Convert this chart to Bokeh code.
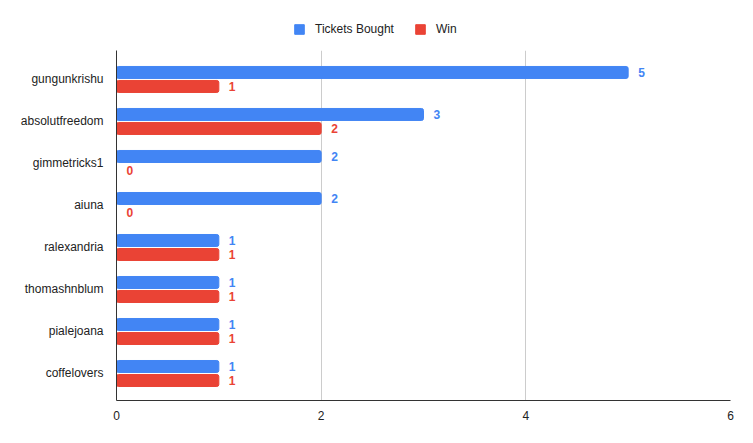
from bokeh.plotting import figure
from bokeh.layouts import column
from bokeh.models import ColumnDataSource, Range1d, FixedTicker, Legend, LegendItem
from bokeh.core.properties import value
from bokeh.embed import file_html
from bokeh.resources import INLINE

users = ["gungunkrishu", "absolutfreedom", "gimmetricks1", "aiuna",
         "ralexandria", "thomashnblum", "pialejoana", "coffelovers"]
tickets = [5, 3, 2, 2, 1, 1, 1, 1]
wins = [1, 2, 0, 0, 1, 1, 1, 1]
series_names = ["Tickets Bought", "Win"]
x_ticks = [0, 2, 4, 6]

BLUE = "#4285F4"
RED = "#EA4335"
FONT = "Liberation Sans"
n = len(users)
pos = [n - 1 - i for i in range(n)]
off = 7 / 42.0
h = 12 / 42.0

src_t = ColumnDataSource(dict(y=[p + off for p in pos], x=tickets, lbl=[str(v) for v in tickets]))
src_w = ColumnDataSource(dict(y=[p - off for p in pos], x=wins, lbl=[str(v) for v in wins]))

# legend strip (its own figure; its ranges keep the proxy bars out of view)
lg = figure(width=745, height=42, output_backend="svg", toolbar_location=None,
            x_range=Range1d(0, 6), y_range=Range1d(100, 101),
            x_axis_type=None, y_axis_type=None,
            min_border_left=116, min_border_right=15, min_border_top=0, min_border_bottom=0)
lg.outline_line_color = None
lg.xgrid.visible = False
lg.ygrid.visible = False
lr1 = lg.hbar(y="y", right="x", left=0, height=h, source=src_t, color=BLUE)
lr2 = lg.hbar(y="y", right="x", left=0, height=h, source=src_w, color=RED)
legend = Legend(items=[LegendItem(label=series_names[0], renderers=[lr1]),
                       LegendItem(label=series_names[1], renderers=[lr2])],
                orientation="horizontal", location=(177, 6),
                label_text_font=FONT, label_text_font_size="12px",
                label_text_color="#222222", glyph_width=12, glyph_height=12,
                label_standoff=10, spacing=20, border_line_color=None,
                background_fill_alpha=0, padding=4, margin=0)
lg.add_layout(legend, "center")

p = figure(width=745, height=393, output_backend="svg", toolbar_location=None,
           x_range=Range1d(0, 6), y_range=Range1d(-0.643, n - 1 + 0.69),
           min_border_left=116, min_border_right=15, min_border_top=8, min_border_bottom=35)
p.outline_line_color = None
p.background_fill_color = "white"

rt = p.hbar(y="y", right="x", left=0, height=h, source=src_t, color=BLUE, border_radius=2)
rw = p.hbar(y="y", right="x", left=0, height=h, source=src_w, color=RED, border_radius=2)

for src, col in ((src_t, BLUE), (src_w, RED)):
    p.text(x="x", y="y", text="lbl", source=src, x_offset=10, text_baseline="middle",
           text_align="left", text_color=col, text_font=value(FONT),
           text_font_size="12px", text_font_style="bold")

p.xaxis.ticker = FixedTicker(ticks=x_ticks)
p.yaxis.ticker = FixedTicker(ticks=pos)
p.yaxis.major_label_overrides = {pp: u for pp, u in zip(pos, users)}
for ax in (p.xaxis, p.yaxis):
    ax.major_tick_line_color = None
    ax.minor_tick_line_color = None
    ax.axis_line_color = "#333333"
    ax.major_label_text_font = FONT
    ax.major_label_text_font_size = "12px"
    ax.major_label_text_color = "#222222"
p.yaxis.major_label_standoff = 7
p.xaxis.major_label_standoff = 4
p.ygrid.grid_line_color = None
p.xgrid.grid_line_color = "#cccccc"
p.xgrid.ticker = FixedTicker(ticks=x_ticks)

layout = column(lg, p, spacing=0)
open("out.html", "w").write(file_html(layout, INLINE))
